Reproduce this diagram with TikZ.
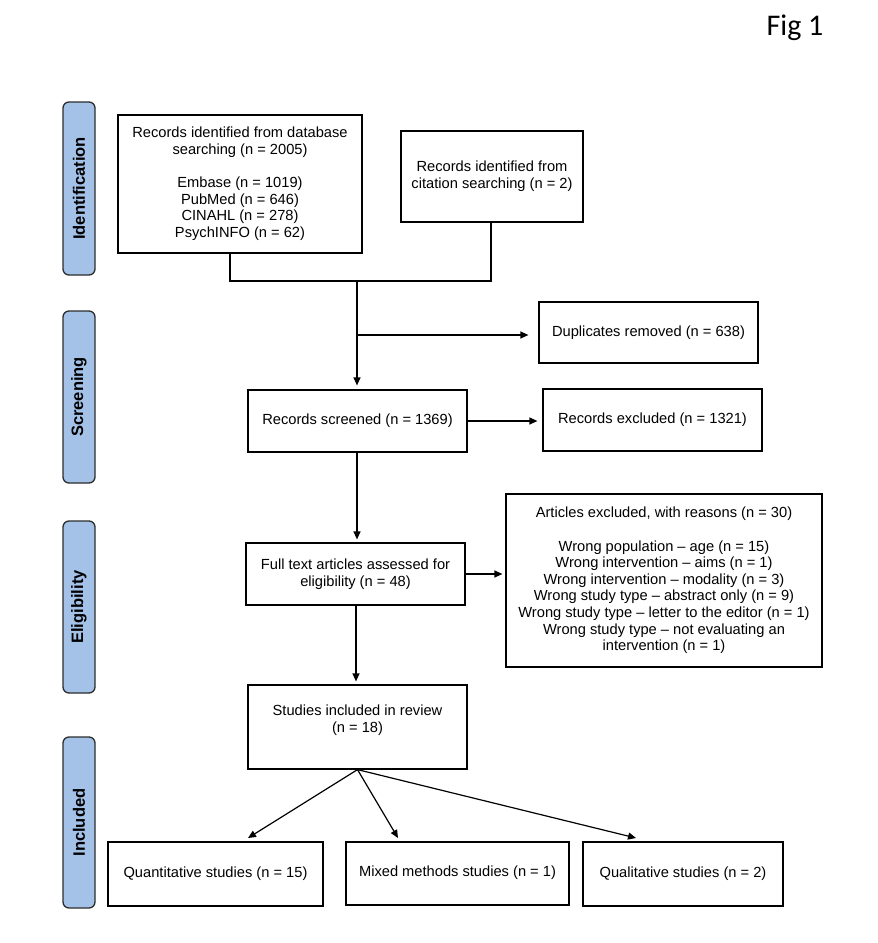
\documentclass[tikz,border=0pt]{standalone}
\usepackage{fontspec}
\setmainfont{Liberation Sans}
\newfontfamily\figfont{Carlito}
\usetikzlibrary{arrows.meta,calc}
\definecolor{barblue}{RGB}{164,194,232}
\definecolor{bardraw}{RGB}{45,45,45}
\begin{document}
\begin{tikzpicture}[x=1pt,y=-1pt,
  box/.style={draw=black,line width=1.2pt,inner sep=0pt,align=center,
    font=\fontsize{14.67pt}{16.6pt}\selectfont},
  bar/.style={draw=bardraw,fill=barblue,line width=1.3pt,rounded corners=6pt,
    inner sep=0pt,minimum height=32pt,
    font=\fontsize{16.5pt}{18pt}\selectfont\bfseries},
  arr/.style={line width=1.2pt,-{Triangle[length=8pt,width=7pt]}},
  ln/.style={line width=1.2pt}]
\useasboundingbox (0,0) rectangle (878,943);
\node[font=\figfont\fontsize{30pt}{32pt}\selectfont] (fig) at (795,28) {Fig 1};
% side bars
\node[bar,minimum width=173pt,rotate=90] (bid) at (79,188.5) {Identification};
\node[bar,minimum width=172pt,rotate=90] (bsc) at (79,397) {Screening};
\node[bar,minimum width=172pt,rotate=90] (bel) at (79,607) {Eligibility};
\node[bar,minimum width=171pt,rotate=90] (bin) at (79,822.5) {Included};
% boxes
\node[box,minimum width=244pt,minimum height=138pt] (b1) at (240,184)
  {Records identified from database\\searching (n = 2005)\\[16.6pt]Embase (n = 1019)\\PubMed (n = 646)\\CINAHL (n = 278)\\PsychINFO (n = 62)};
\node[box,minimum width=182pt,minimum height=91pt] (b2) at (492,176.5)
  {Records identified from\\citation searching (n = 2)};
\node[box,minimum width=219pt,minimum height=61pt] (dup) at (648.5,332.5)
  {Duplicates removed (n = 638)};
\node[box,minimum width=219pt,minimum height=62pt] (rs) at (357.5,421)
  {Records screened (n = 1369)};
\node[box,minimum width=219pt,minimum height=62pt] (re) at (652.5,420)
  {Records excluded (n = 1321)};
\node[box,minimum width=219pt,minimum height=62pt] (ft) at (355.5,574)
  {Full text articles assessed for\\eligibility (n = 48)};
\node[box,minimum width=316pt,minimum height=173pt] (ae) at (664,580.5)
  {Articles excluded, with reasons (n = 30)\\[16.6pt]Wrong population -- age (n = 15)\\Wrong intervention -- aims (n = 1)\\Wrong intervention -- modality (n = 3)\\Wrong study type -- abstract only (n = 9)\\Wrong study type -- letter to the editor (n = 1)\\Wrong study type -- not evaluating an\\intervention (n = 1)};
\node[box,minimum width=219pt,minimum height=84pt] (si) at (357.5,727) {};
\node[box,draw=none] (sit) at (357.5,720) {Studies included in review\\(n = 18)};
\node[box,minimum width=215pt,minimum height=64pt,text depth=0pt,text height=6pt] (q) at (215.5,874)
  {Quantitative studies (n = 15)};
\node[box,minimum width=223pt,minimum height=63pt,text depth=0pt,text height=6pt] (m) at (457.5,873.5)
  {Mixed methods studies (n = 1)};
\node[box,minimum width=200pt,minimum height=64pt,text depth=0pt,text height=6pt] (ql) at (683,874)
  {Qualitative studies (n = 2)};
% connectors
\coordinate (jl) at (230,281);
\coordinate (jr) at (491,281);
\coordinate (jm) at (357,281);
\coordinate (jd) at (357,335);
\coordinate (jf) at (356,600);
\draw[ln] (b1.south -| jl) -- (jl) -- (jr) -- (b2.south -| jr);
\draw[arr] (jm) -- ([yshift=4pt]rs.north -| jm);
\draw[arr] (jd) -- ([xshift=-10pt]dup.west |- jd);
\draw[arr] (rs.east) -- ([xshift=-5pt]re.west |- rs.east);
\draw[arr] (rs.south -| jm) -- ([yshift=3pt]ft.north -| jm);
\draw[arr] (ft.east) -- ([xshift=-3pt]ae.west |- ft.east);
\draw[arr] (ft.south -| jf) -- ([yshift=3pt]si.north -| jf);
\coordinate (tq) at (248,838);
\coordinate (tm) at (398,838);
\coordinate (tl) at (636,838);
\draw[arr] (si.south) -- (tq);
\draw[arr] (si.south) -- (tm);
\draw[arr] (si.south) -- (tl);
\end{tikzpicture}
\end{document}
